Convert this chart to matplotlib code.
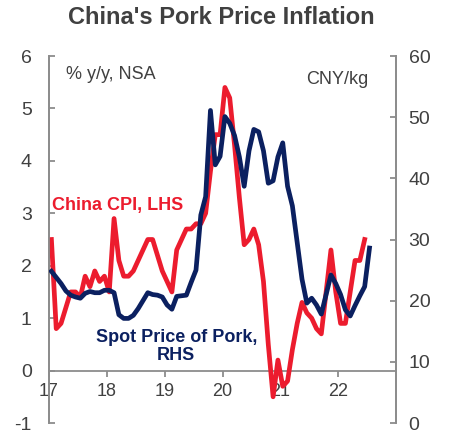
import matplotlib
matplotlib.use("Agg")
import matplotlib.pyplot as plt
import numpy as np

plt.rcParams['font.family'] = ['Liberation Sans', 'DejaVu Sans']
plt.rcParams['axes.unicode_minus'] = False

# monthly data, Jan 2017 onwards
cpi_yoy = [2.5, 0.8, 0.9, 1.2, 1.5, 1.5, 1.4, 1.8, 1.6, 1.9, 1.7, 1.8,
           1.5, 2.9, 2.1, 1.8, 1.8, 1.9, 2.1, 2.3, 2.5, 2.5, 2.2, 1.9,
           1.7, 1.5, 2.3, 2.5, 2.7, 2.7, 2.8, 2.8, 3.0, 3.8, 4.5, 4.5,
           5.4, 5.2, 4.3, 3.3, 2.4, 2.5, 2.7, 2.4, 1.7, 0.5, -0.5, 0.2,
           -0.3, -0.2, 0.4, 0.9, 1.3, 1.1, 1.0, 0.8, 0.7, 1.5, 2.3, 1.5,
           0.9, 0.9, 1.5, 2.1, 2.1, 2.5]
pork_price = [24.8, 23.8, 22.8, 21.6, 20.9, 20.6, 20.4, 21.2, 21.5, 21.3, 21.3, 21.7,
              21.7, 21.3, 17.7, 17.1, 17.1, 17.6, 18.7, 20.0, 21.3, 21.0, 20.9, 20.6,
              19.3, 18.6, 20.7, 20.8, 20.9, 23.0, 25.0, 34.0, 37.0, 51.1, 42.2, 43.6,
              50.1, 49.0, 47.0, 43.5, 38.7, 44.5, 48.0, 47.6, 44.5, 39.2, 39.6, 43.5,
              45.8, 38.7, 35.5, 29.5, 23.5, 19.6, 20.4, 19.3, 17.8, 21.0, 24.2, 22.8,
              21.0, 18.5, 17.5, 19.2, 20.8, 22.3, 28.6]
year_ticks = [2017, 2018, 2019, 2020, 2021, 2022]
year_labels = ['17', '18', '19', '20', '21', '22']

t_cpi = 2017 + (np.arange(len(cpi_yoy)) + 0.5) / 12
t_pork = 2017 + (np.arange(len(pork_price)) + 0.5) / 12

red = '#EC1C2E'
navy = '#0B2060'
grey = '#8C8C8C'
txt = '#404040'

fig = plt.figure(figsize=(4.51, 4.36), dpi=100)
ax = fig.add_axes([49/451, 13/436, 347/451, 367/436])
ax2 = ax.twinx()

ax.plot(t_cpi, cpi_yoy, color=red, lw=3.4, solid_joinstyle='round', zorder=5)
ax2.plot(t_pork, pork_price, color=navy, lw=3.4, solid_joinstyle='round', zorder=5)

ax.set_xlim(2017, 2023)
ax.set_ylim(-1, 6)
ax2.set_ylim(0, 60)

ax.set_xticks(year_ticks)
ax.set_xticklabels(year_labels)
ax.set_yticks(range(-1, 7))
ax2.set_yticks(range(0, 61, 10))

for a in (ax, ax2):
    a.spines['top'].set_visible(False)
    for s in a.spines.values():
        s.set_color(grey)
        s.set_linewidth(1.3)
ax.spines['bottom'].set_position(('data', 0))
ax2.spines['bottom'].set_visible(False)

ax.tick_params(axis='y', direction='in', length=4, width=1.3, color=grey,
               labelsize=14, labelcolor=txt, pad=12.5)
ax2.tick_params(axis='y', direction='in', length=4, width=1.3, color=grey,
                labelsize=14, labelcolor=txt, pad=9)
ax.tick_params(axis='x', direction='out', length=4, width=1.3, color=grey,
               labelsize=13, labelcolor=txt, pad=5)

ax.text(2017.29, 5.64, '% y/y, NSA', fontsize=13, color=txt, ha='left', va='center')
ax.text(2022.52, 5.56, 'CNY/kg', fontsize=13, color=txt, ha='right', va='center')
ax.text(2017.05, 3.15, 'China CPI, LHS', fontsize=13, color=red, fontweight='bold',
        ha='left', va='center')
ax.text(2019.2, 0.46, 'Spot Price of Pork,\nRHS', fontsize=13, color=navy,
        fontweight='bold', ha='center', va='center', multialignment='center',
        linespacing=1.05)

fig.text(221/451, 1 - 18/436, "China's Pork Price Inflation", fontsize=17,
         fontweight='bold', color=txt, ha='center', va='center')

fig.savefig('out.png', dpi=100)
